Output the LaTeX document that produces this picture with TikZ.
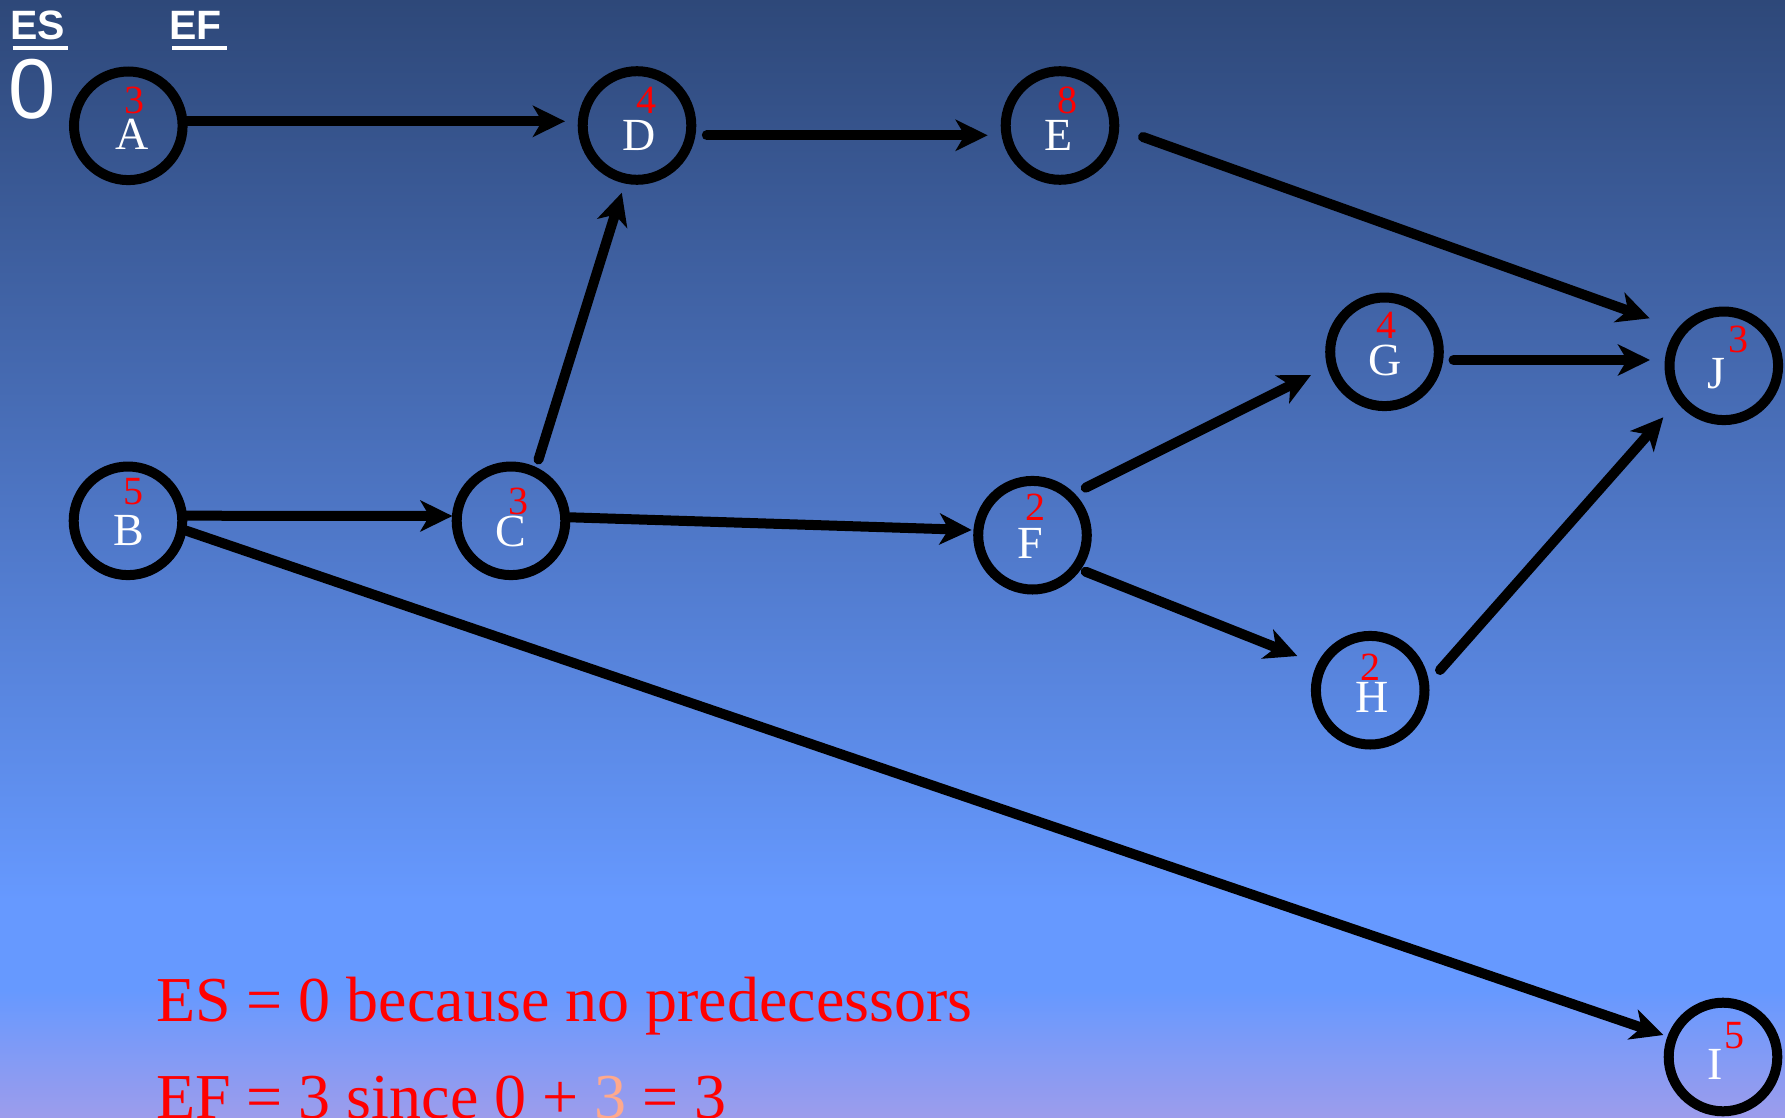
\documentclass[tikz,border=0pt]{standalone}
\usepackage{fontspec}
\setmainfont{Liberation Serif}
\newfontfamily\arialfont{Liberation Sans}
\usetikzlibrary{arrows.meta}

\definecolor{bgtop}{HTML}{2E4879}
\definecolor{bgmid}{HTML}{6699FF}
\definecolor{bglow}{HTML}{9C9CEC}
\definecolor{peach}{HTML}{FFA98C}

\begin{document}
\begin{tikzpicture}[x=1pt,y=-1pt,
  event/.style={circle,draw=black,line width=10pt,minimum size=108.6pt,inner sep=0pt},
  letter/.style={anchor=base,inner sep=0pt,text=white,font=\fontsize{46}{46}\selectfont},
  dur/.style={anchor=base,inner sep=0pt,text=red,font=\fontsize{40}{40}\selectfont},
  link/.style={draw=black,line width=10pt,line cap=round,-{Stealth[length=32pt,width=31pt,inset=9pt]}},
  head/.style={anchor=base west,inner sep=0pt,text=white,font=\arialfont\bfseries\fontsize{41}{41}\selectfont},
  note/.style={anchor=base west,inner sep=0pt,text=red,font=\fontsize{64}{64}\selectfont},
]
\useasboundingbox (0,0) rectangle (1785,1117);

% background gradient
\shade[top color=bgtop,bottom color=bgmid] (0,0) rectangle (1785,901);
\fill[bgmid] (0,900) rectangle (1785,991);
\shade[top color=bgmid,bottom color=bglow] (0,990) rectangle (1785,1117);

% column headings
\node[head] (es) at (10,39) {ES};
\node[head] (ef) at (169,39) {EF};
\draw[white,line width=4pt] (12.7,48) -- (68,48);
\draw[white,line width=4pt] (172,48) -- (227,48);
\node[anchor=base west,inner sep=0pt,text=white,font=\arialfont\fontsize{85}{85}\selectfont] (es0) at (8,118) {0};

% activity nodes
\node[event] (A) at (128.3,125.8) {};
\node[event] (D) at (637,125.5) {};
\node[event] (E) at (1060,125.5) {};
\node[event] (G) at (1384.5,351.8) {};
\node[event] (J) at (1723.8,365.8) {};
\node[event] (B) at (128,520.8) {};
\node[event] (C) at (511,520.8) {};
\node[event] (F) at (1032.5,535.2) {};
\node[event] (H) at (1370.2,690.2) {};
\node[event] (I) at (1723,1057) {};

% names
\node[letter] (A-name) at (131.7,149) {A};
\node[letter] (B-name) at (129,545) {B};
\node[letter] (C-name) at (510.5,546) {C};
\node[letter] (D-name) at (639.5,150) {D};
\node[letter] (E-name) at (1058.8,150) {E};
\node[letter] (F-name) at (1030,558.3) {F};
\node[letter] (G-name) at (1385.3,375) {G};
\node[letter] (H-name) at (1371.7,712.7) {H};
\node[letter] (I-name) at (1714.7,1079.3) {I};
\node[letter] (J-name) at (1716,388.3) {J};

% durations
\node[dur] (A-dur) at (134.3,113) {3};
\node[dur] (B-dur) at (133.5,504) {5};
\node[dur] (C-dur) at (518,514) {3};
\node[dur] (D-dur) at (646.5,113.3) {4};
\node[dur] (E-dur) at (1067,113) {8};
\node[dur] (F-dur) at (1035,520) {2};
\node[dur] (G-dur) at (1386.7,338.3) {4};
\node[dur] (H-dur) at (1370.7,680) {2};
\node[dur] (I-dur) at (1734,1048.3) {5};
\node[dur] (J-dur) at (1738,352.7) {3};

% precedence arrows
\draw[link] ([shift={(59.4,-4.5)}]A.center) -- ([shift={(-72,-4.2)}]D.center);
\draw[link] ([shift={(69.8,9.8)}]D.center) -- ([shift={(-72.3,9.8)}]E.center);
\draw[link] ([shift={(83,11.5)}]E.center) -- ([shift={(-74.2,-47.5)}]J.center);
\draw[link] ([shift={(69,8.2)}]G.center) -- ([shift={(-73.8,-5.8)}]J.center);
\draw[link] ([shift={(69.8,-20.2)}]H.center) -- ([shift={(-60.5,51.5)}]J.center);
\draw[link] ([shift={(53.2,-47.5)}]F.center) -- ([shift={(-73.5,23.2)}]G.center);
\draw[link] ([shift={(53.2,36.5)}]F.center) -- ([shift={(-72.9,-34.2)}]H.center);
\draw[link] ([shift={(59,-3.5)}]C.center) -- ([shift={(-60.8,-5.2)}]F.center);
\draw[link] ([shift={(58.3,-5.1)}]B.center) -- ([shift={(-58.6,-4.8)}]C.center);
\draw[link] ([shift={(58.3,9.9)}]B.center) -- ([shift={(-59.7,-22)}]I.center);
\draw[link] ([shift={(27.5,-61.3)}]C.center) -- ([shift={(-15.2,67.2)}]D.center);

% explanation
\node[note] (note1) at (156,1021.7) {ES = 0 because no predecessors};
\node[note] (note2) at (156,1118.5) {EF = 3 since 0 + {\color{peach}3} = 3};
\end{tikzpicture}
\end{document}
